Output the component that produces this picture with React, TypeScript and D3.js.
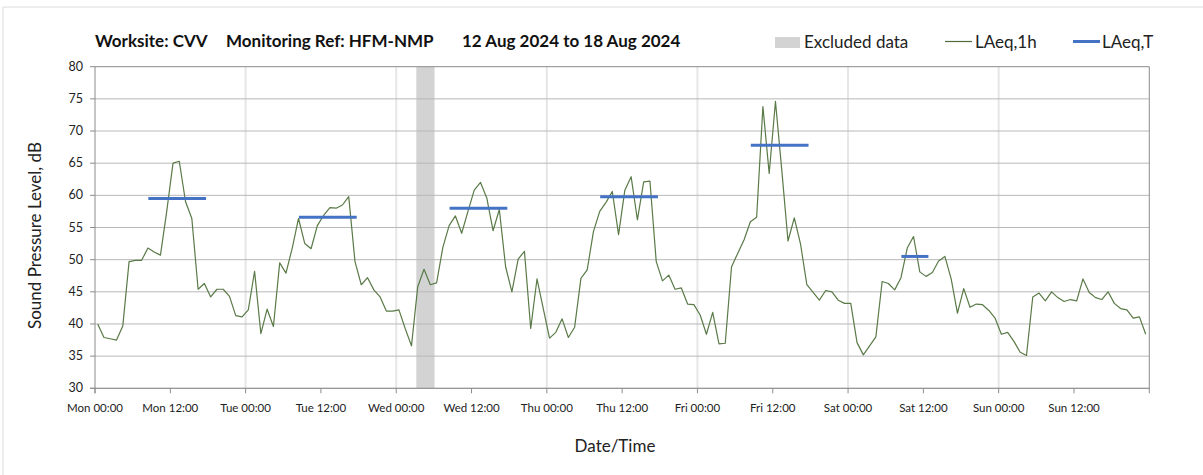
import React from "react";
import * as d3 from "d3";

// Hourly LAeq,1h values (dB) from Mon 00:00 to Sun 23:00
const laeq1h: number[] = [
  40.0, 37.9, 37.7, 37.5, 39.7, 49.7, 49.9, 49.9, 51.8, 51.2, 50.7, 57.5, 65.0, 65.3, 59.0, 56.4, 45.4, 46.3, 44.2, 45.4, 45.4, 44.3, 41.3, 41.1,
  42.2, 48.2, 38.5, 42.3, 39.6, 49.5, 47.9, 51.8, 56.4, 52.5, 51.7, 55.3, 56.9, 58.1, 58.0, 58.5, 59.8, 49.7, 46.1, 47.2, 45.3, 44.2, 42.0, 42.0,
  42.2, 39.3, 36.6, 45.8, 48.5, 46.1, 46.4, 51.9, 55.3, 56.8, 54.1, 57.5, 60.8, 62.0, 59.6, 54.5, 57.8, 48.9, 45.0, 50.1, 51.3, 39.3, 47.0, 42.4,
  37.8, 38.7, 40.8, 37.9, 39.5, 47.1, 48.4, 54.4, 57.5, 58.9, 60.6, 53.9, 60.8, 62.9, 56.2, 62.1, 62.2, 49.7, 46.7, 47.6, 45.4, 45.6, 43.1, 43.0,
  41.4, 38.4, 41.8, 36.9, 37.0, 48.9, 51.0, 53.1, 55.9, 56.6, 73.8, 63.4, 74.6, 64.0, 52.9, 56.5, 52.4, 46.1, 44.9, 43.7, 45.2, 45.0, 43.7, 43.2,
  43.2, 37.1, 35.2, 36.6, 38.0, 46.6, 46.3, 45.3, 47.2, 51.8, 53.6, 48.1, 47.4, 48.0, 49.8, 50.5, 47.0, 41.7, 45.5, 42.6, 43.1, 43.0, 42.1, 40.9,
  38.4, 38.7, 37.3, 35.6, 35.1, 44.2, 44.8, 43.6, 45.0, 44.1, 43.5, 43.8, 43.6, 47.0, 44.9, 44.1, 43.8, 45.0, 43.2, 42.4, 42.2, 40.9, 41.1, 38.4,
];

// LAeq,T periods: start hour, end hour, level
const periodStart: number[] = [8.5, 32.5, 56.5, 80.5, 104.5, 128.5];
const periodEnd: number[] = [17.7, 41.7, 65.7, 89.7, 113.7, 132.8];
const periodLevel: number[] = [59.5, 56.6, 58.0, 59.8, 67.8, 50.5];

// Excluded data window (hours)
const excludedStart = 51.2;
const excludedEnd = 54.1;

const xTickHours: number[] = [0, 12, 24, 36, 48, 60, 72, 84, 96, 108, 120, 132, 144, 156];
const xTickLabels: string[] = [
  "Mon 00:00", "Mon 12:00", "Tue 00:00", "Tue 12:00", "Wed 00:00", "Wed 12:00", "Thu 00:00",
  "Thu 12:00", "Fri 00:00", "Fri 12:00", "Sat 00:00", "Sat 12:00", "Sun 00:00", "Sun 12:00",
];
const yTicks: number[] = [30, 35, 40, 45, 50, 55, 60, 65, 70, 75, 80];

const W = 1203;
const H = 475;
const left = 95;
const right = 1149.3;
const top = 66.7;
const bottom = 388.3;
const pointOffset = 0.43;
const font = "Lato, 'Open Sans', sans-serif";

export default function App() {
  const x = d3.scaleLinear().domain([0, 168]).range([left, right]);
  const y = d3.scaleLinear().domain([30, 80]).range([bottom, top]);

  const line = d3
    .line<number>()
    .x((_, i) => x(i + pointOffset))
    .y((d) => y(d));

  const dayLines = [24, 48, 72, 96, 120, 144];

  return (
    <svg width={W} height={H} style={{ position: "absolute", left: 0, top: 0, background: "#fff" }}>
      <rect x={0} y={0} width={W} height={H} fill="#fff" />
      {/* outer frame */}
      <line x1={3} y1={7} x2={W} y2={7} stroke="#dcdcdc" />
      <line x1={3} y1={7} x2={3} y2={H} stroke="#dcdcdc" />

      {/* title */}
      <g fontFamily={font} fontWeight="bold" fontSize={17} fill="#111">
        <text x={95} y={47}>Worksite: CVV</text>
        <text x={226} y={47}>Monitoring Ref: HFM-NMP</text>
        <text x={462} y={47}>12 Aug 2024 to 18 Aug 2024</text>
      </g>

      {/* legend */}
      <g fontFamily={font} fontSize={17} fill="#222">
        <rect x={775} y={37} width={25} height={11} fill="#d3d3d3" />
        <text x={804} y={48}>Excluded data</text>
        <line x1={945} x2={972} y1={41.5} y2={41.5} stroke="#4f6b3a" strokeWidth={1.2} />
        <text x={975} y={48}>LAeq,1h</text>
        <line x1={1073} x2={1100} y1={41.5} y2={41.5} stroke="#4472c4" strokeWidth={3} />
        <text x={1102} y={48}>LAeq,T</text>
      </g>

      {/* excluded band */}
      <rect
        x={x(excludedStart)}
        y={top}
        width={x(excludedEnd) - x(excludedStart)}
        height={bottom - top}
        fill="#d3d3d3"
      />

      {/* vertical day lines */}
      {dayLines.map((h) => (
        <line key={h} x1={x(h)} x2={x(h)} y1={top} y2={bottom} stroke="#e6e6e6" strokeWidth={2} />
      ))}

      {/* horizontal grid */}
      {yTicks.map((t) => (
        <line key={t} x1={left} x2={right} y1={y(t)} y2={y(t)} stroke={t === 80 ? "#8c8c8c" : "#b8b8b8"} strokeWidth={1} />
      ))}

      {/* axes */}
      <line x1={left} x2={left} y1={top} y2={bottom + 5} stroke="#8c8c8c" />
      <line x1={right} x2={right} y1={top} y2={bottom + 5} stroke="#8c8c8c" />
      <line x1={left - 5} x2={right} y1={bottom} y2={bottom} stroke="#8c8c8c" />
      {yTicks.map((t) => (
        <line key={t} x1={left - 5} x2={left} y1={y(t)} y2={y(t)} stroke="#8c8c8c" />
      ))}
      {xTickHours.map((h) => (
        <line key={h} x1={x(h)} x2={x(h)} y1={bottom} y2={bottom + 5} stroke="#8c8c8c" />
      ))}

      {/* y tick labels */}
      <g fontFamily={font} fontSize={12.5} fill="#222" textAnchor="end">
        {yTicks.map((t) => (
          <text key={t} x={83} y={y(t) + 4}>{t}</text>
        ))}
      </g>

      {/* x tick labels */}
      <g fontFamily={font} fontSize={11.5} fill="#222" textAnchor="middle">
        {xTickHours.map((h, i) => (
          <text key={h} x={x(h)} y={412}>{xTickLabels[i]}</text>
        ))}
      </g>

      {/* LAeq,1h line */}
      <path d={line(laeq1h) || ""} fill="none" stroke="#5a7a47" strokeWidth={1.2} strokeLinejoin="round" />

      {/* LAeq,T segments */}
      {periodLevel.map((v, i) => (
        <line
          key={i}
          x1={x(periodStart[i])}
          x2={x(periodEnd[i])}
          y1={y(v)}
          y2={y(v)}
          stroke="#4472c4"
          strokeWidth={3}
        />
      ))}

      {/* axis titles */}
      <text
        fontFamily={font}
        fontSize={17}
        fill="#222"
        textAnchor="middle"
        transform={`translate(41, ${(top + bottom) / 2 + 8}) rotate(-90)`}
      >
        Sound Pressure Level, dB
      </text>
      <text fontFamily={font} fontSize={17} fill="#222" textAnchor="middle" x={615} y={452}>
        Date/Time
      </text>
    </svg>
  );
}
